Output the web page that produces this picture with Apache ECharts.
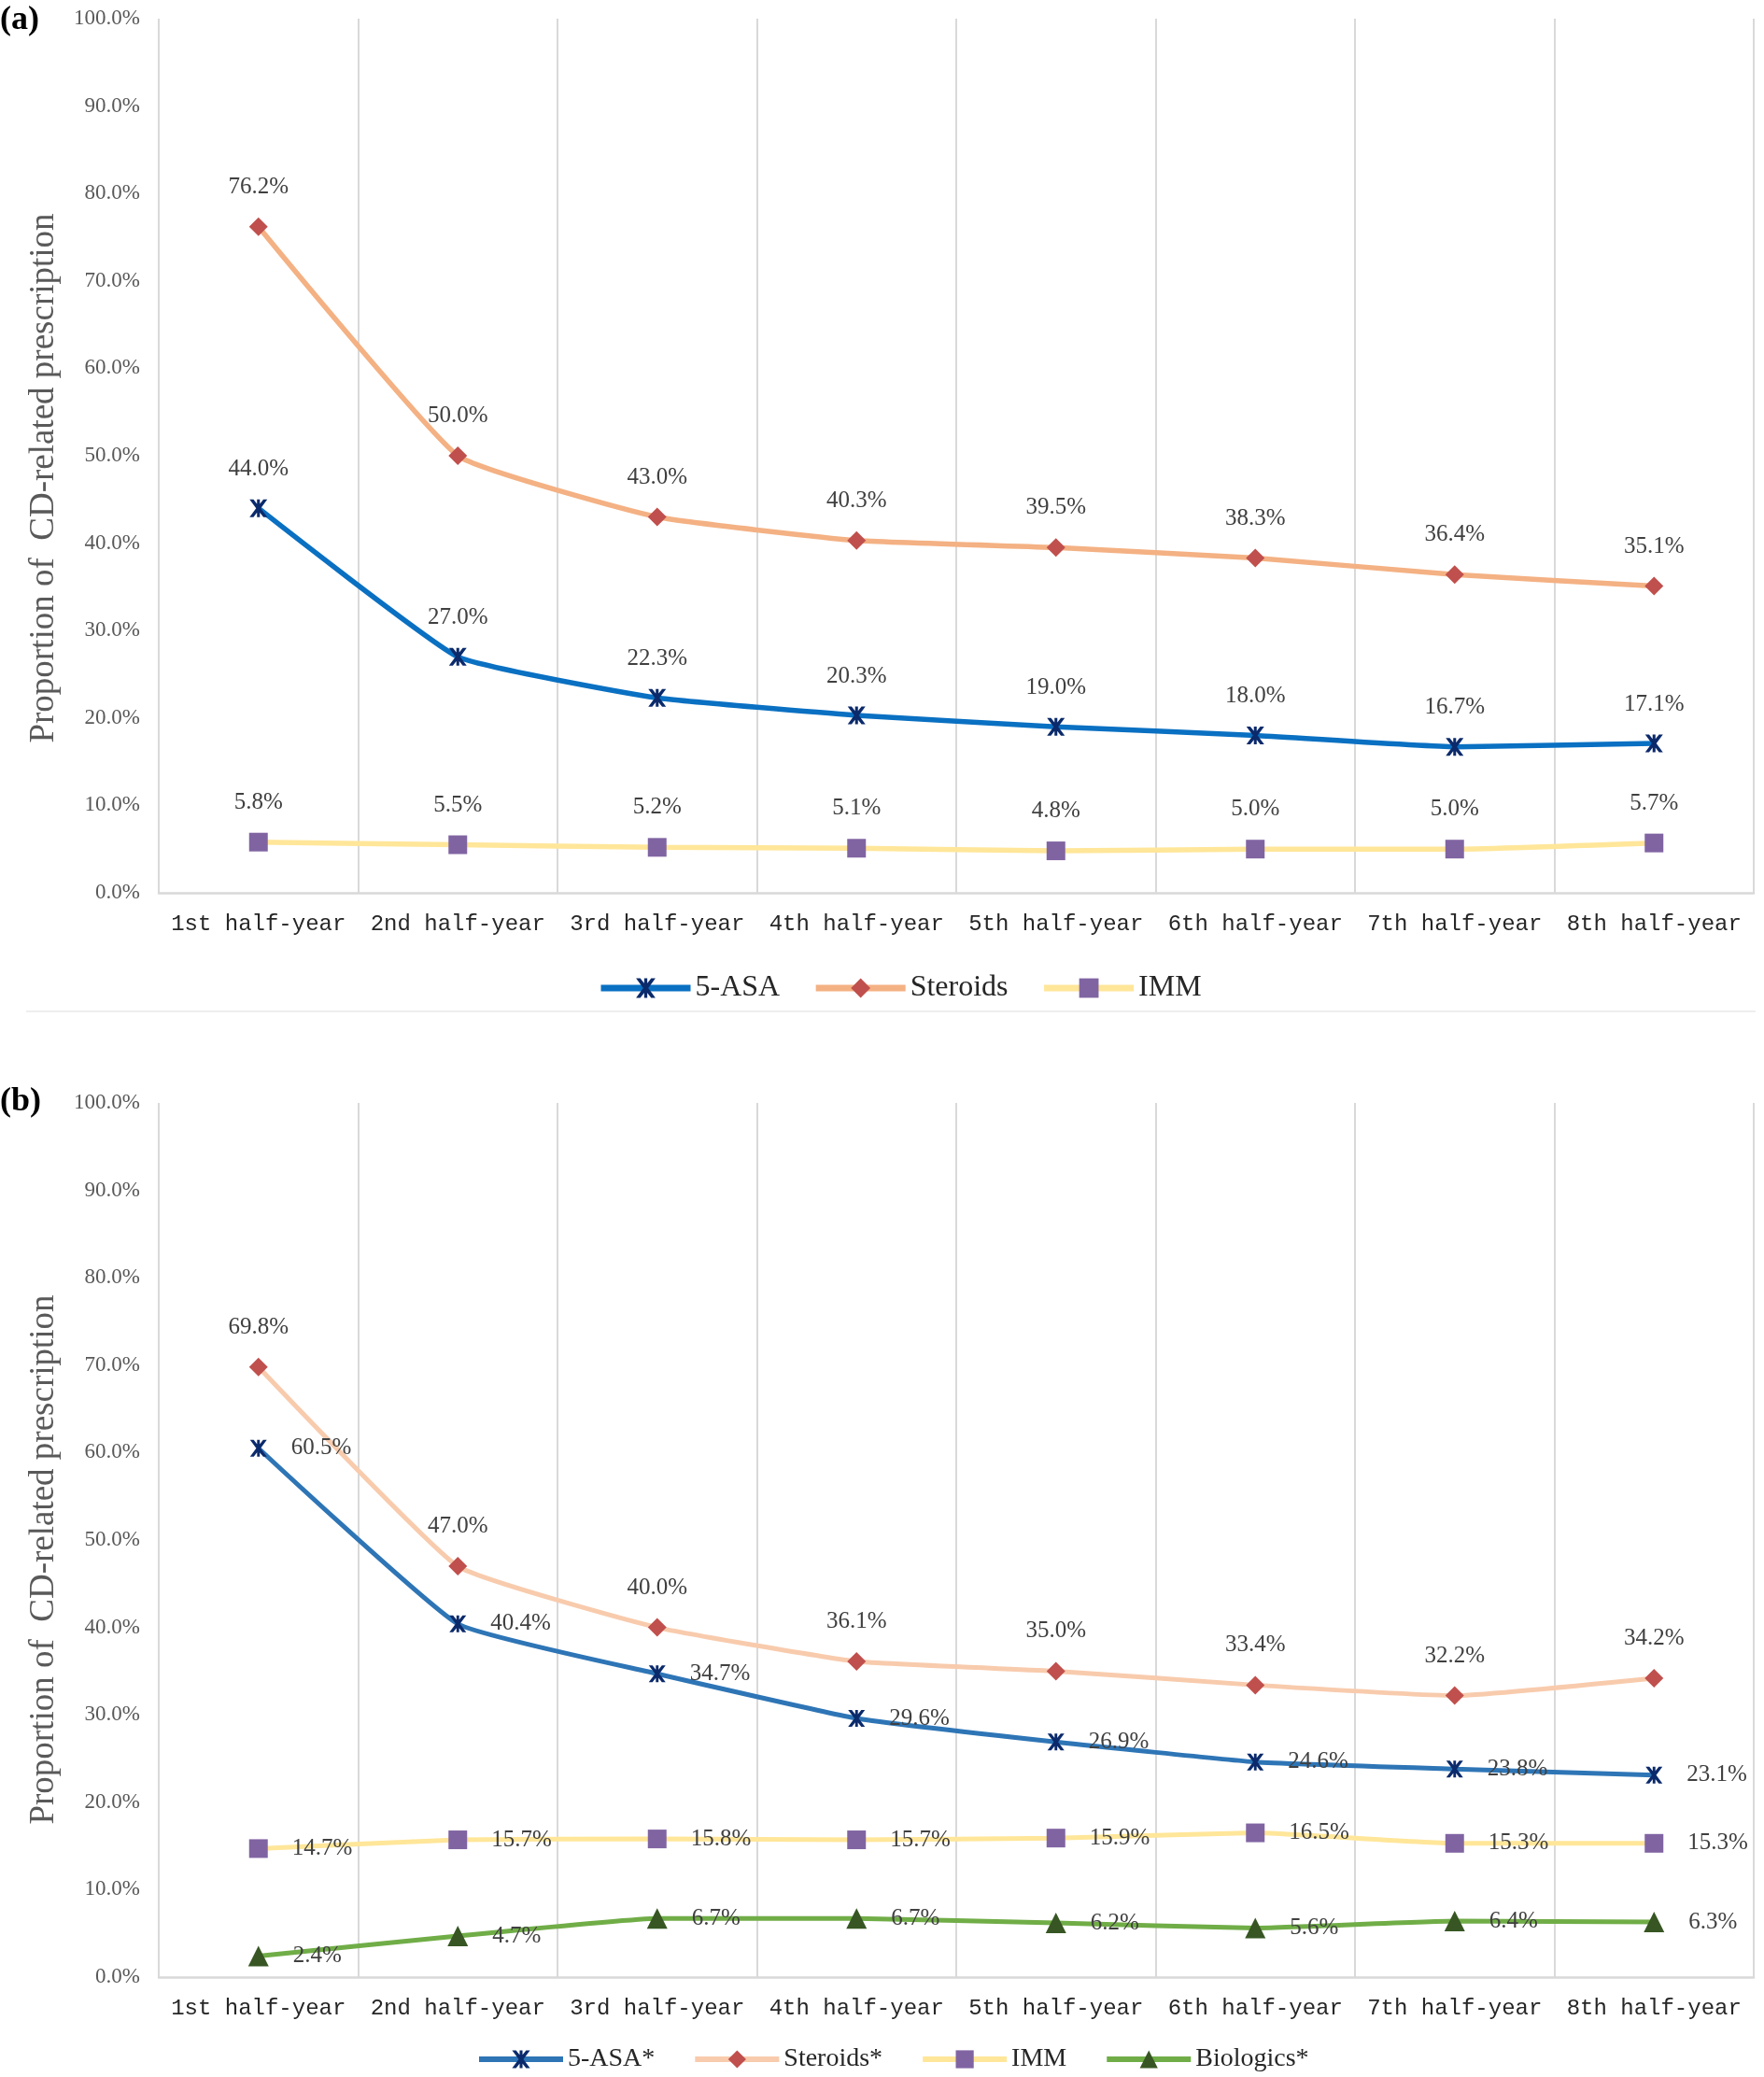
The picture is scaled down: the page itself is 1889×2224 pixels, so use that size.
<!DOCTYPE html>
<html>
<head>
<meta charset="utf-8">
<script src="https://cdn.jsdelivr.net/npm/echarts@6/dist/echarts.min.js"></script>
<style>
html,body{margin:0;padding:0;background:#fff;}
#chart{width:1889px;height:2224px;}
</style>
</head>
<body>
<div id="chart"></div>
<script>
const categories = ['1st half-year','2nd half-year','3rd half-year','4th half-year','5th half-year','6th half-year','7th half-year','8th half-year'];
const yTicks = [0,10,20,30,40,50,60,70,80,90,100];

// Panel (a)
const a_5ASA = [44.0, 27.0, 22.3, 20.3, 19.0, 18.0, 16.7, 17.1];
const a_Steroids = [76.2, 50.0, 43.0, 40.3, 39.5, 38.3, 36.4, 35.1];
const a_IMM = [5.8, 5.5, 5.2, 5.1, 4.8, 5.0, 5.0, 5.7];

// Panel (b)
const b_5ASA = [60.5, 40.4, 34.7, 29.6, 26.9, 24.6, 23.8, 23.1];
const b_Steroids = [69.8, 47.0, 40.0, 36.1, 35.0, 33.4, 32.2, 34.2];
const b_IMM = [14.7, 15.7, 15.8, 15.7, 15.9, 16.5, 15.3, 15.3];
const b_Biologics = [2.4, 4.7, 6.7, 6.7, 6.2, 5.6, 6.4, 6.3];

const legendA = ['5-ASA','Steroids','IMM'];
const legendB = ['5-ASA*','Steroids*','IMM','Biologics*'];
const yTitle = 'Proportion of  CD-related prescription';

const STAR = 'path://M0,0 L2.2,0 L5,3.6 L7.8,0 L10,0 L6.3,5 L10,10 L7.8,10 L5,6.4 L2.2,10 L0,10 L3.7,5 Z M4.2,0 L5.8,0 L5.8,10 L4.2,10 Z';
const serif = '"Liberation Serif","Times New Roman",serif';
const mono = '"Liberation Mono","Courier New",monospace';

function fmt(p){ return p.value.toFixed(1) + '%'; }

function mk(name, data, gi, lineColor, lw, symbol, symColor, size, pos, dist){
  return {
    name: name, type: 'line', xAxisIndex: gi, yAxisIndex: gi, data: data,
    smooth: 0.12, symbol: symbol, symbolSize: size,
    lineStyle: {color: lineColor, width: lw},
    itemStyle: {color: symColor, borderWidth: 0},
    label: {show: true, position: pos, distance: dist, formatter: fmt,
      fontFamily: serif, fontSize: 25, color: '#404040'},
    z: 3
  };
}

function xAxis(gi){
  return {
    type: 'category', gridIndex: gi, data: categories, boundaryGap: true,
    axisLine: {show: true, lineStyle: {color: '#d9d9d9', width: 2.5}},
    axisTick: {show: false},
    splitLine: {show: true, interval: 0, lineStyle: {color: '#d9d9d9', width: 2}},
    axisLabel: {interval: 0, fontFamily: mono, fontSize: 24, color: '#262626', margin: 22}
  };
}
function yAxis(gi){
  return {
    type: 'value', gridIndex: gi, min: 0, max: 100, interval: 10,
    axisLine: {show: false}, axisTick: {show: false}, splitLine: {show: false},
    axisLabel: {fontFamily: serif, fontSize: 23, color: '#595959', margin: 20,
      formatter: v => v.toFixed(1) + '%'}
  };
}

const chart = echarts.init(document.getElementById('chart'));
chart.setOption({
  backgroundColor: '#fff',
  animation: false,
  grid: [
    {left: 170, right: 11, top: 20, height: 936},
    {left: 170, right: 11, top: 1181, height: 936}
  ],
  xAxis: [xAxis(0), xAxis(1)],
  yAxis: [yAxis(0), yAxis(1)],
  legend: [
    {data: legendA, left: 635, top: 1037, itemWidth: 96, itemHeight: 26, itemGap: 35,
     lineStyle: {width: 7},
     textStyle: {fontFamily: serif, fontSize: 32, color: '#262626'}},
    {data: legendB, left: 505, top: 2186, itemWidth: 90, itemHeight: 24, itemGap: 40,
     lineStyle: {width: 6},
     textStyle: {fontFamily: serif, fontSize: 28, color: '#262626'}}
  ],
  graphic: [
    {type: 'text', left: 0, top: 4, style: {text: '(a)', font: 'bold 36px ' + serif, fill: '#000'}},
    {type: 'text', left: 0, top: 1162, style: {text: '(b)', font: 'bold 36px ' + serif, fill: '#000'}},
    {type: 'text', x: 47, y: 512, rotation: Math.PI / 2,
     style: {text: yTitle, font: '37px ' + serif, fill: '#595959', align: 'center', verticalAlign: 'middle'}},
    {type: 'text', x: 47, y: 1670, rotation: Math.PI / 2,
     style: {text: yTitle, font: '37px ' + serif, fill: '#595959', align: 'center', verticalAlign: 'middle'}},
    {type: 'line', shape: {x1: 28, y1: 1083, x2: 1880, y2: 1083}, style: {stroke: '#e8e8e8', lineWidth: 1.5}}
  ],
  series: [
    mk('5-ASA', a_5ASA, 0, '#0a70c2', 5.5, STAR, '#0b2a6b', 19, 'top', 20),
    mk('Steroids', a_Steroids, 0, '#f4b183', 5.5, 'diamond', '#c0504d', 20, 'top', 20),
    mk('IMM', a_IMM, 0, '#ffe699', 5.5, 'rect', '#8064a2', 20, 'top', 20),
    mk('5-ASA*', b_5ASA, 1, '#2e75b6', 5, STAR, '#0b2a6b', 18, 'right', 26),
    mk('Steroids*', b_Steroids, 1, '#f8cbad', 5, 'diamond', '#c0504d', 20, 'top', 20),
    mk('IMM', b_IMM, 1, '#ffe699', 5, 'rect', '#8064a2', 20, 'right', 26),
    mk('Biologics*', b_Biologics, 1, '#70ad47', 5, 'triangle', '#375623', 22, 'right', 26)
  ]
});
</script>
</body>
</html>
